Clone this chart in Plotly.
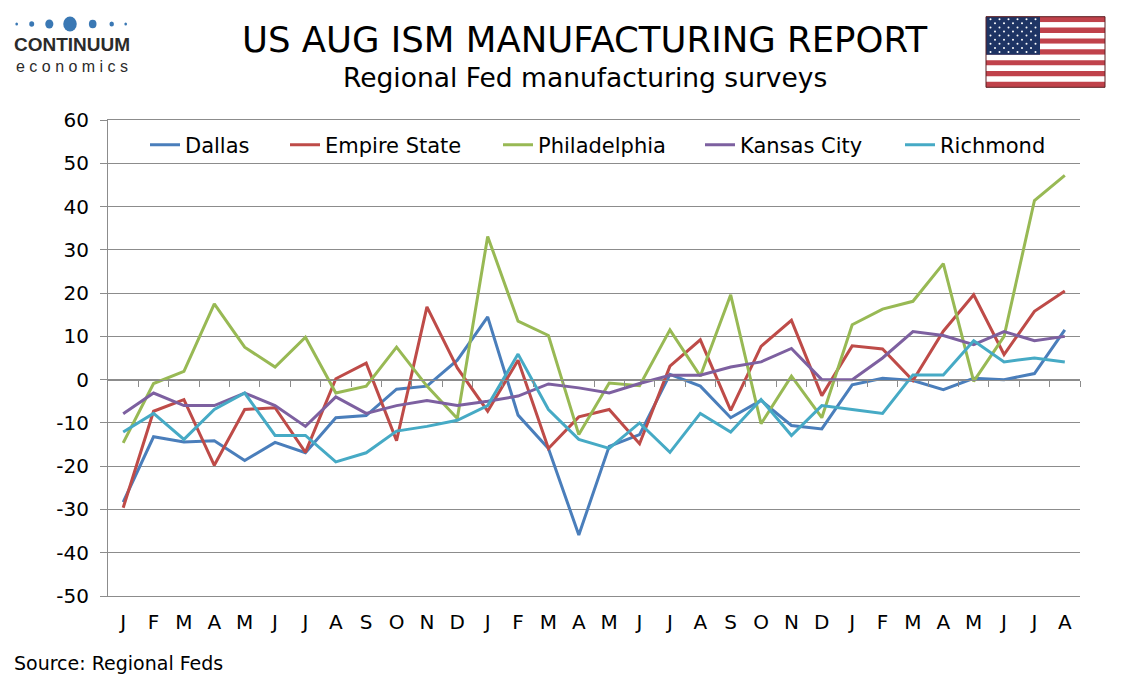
import plotly.graph_objects as go

# months Jan 2019 .. Aug 2021
months = ["J", "F", "M", "A", "M", "J", "J", "A", "S", "O", "N", "D",
          "J", "F", "M", "A", "M", "J", "J", "A", "S", "O", "N", "D",
          "J", "F", "M", "A", "M", "J", "J", "A"]

dallas = [-28.3, -13.2, -14.4, -14.1, -18.7, -14.5, -16.9, -8.8, -8.3, -2.2, -1.5, 4.5,
          14.5, -8.2, -15.9, -35.9, -15.4, -12.7, 1.2, -1.5, -8.8, -4.8, -10.6, -11.4,
          -1.2, 0.3, -0.2, -2.3, 0.3, 0.0, 1.4, 11.5]
empire = [-29.6, -7.3, -4.6, -19.8, -6.9, -6.5, -16.8, 0.2, 3.8, -14.1, 16.8, 2.7,
          -7.3, 4.5, -15.9, -8.6, -6.9, -14.8, 3.1, 9.2, -7.1, 7.7, 13.7, -3.7,
          7.8, 7.1, -0.2, 11.2, 19.6, 5.8, 15.8, 20.5]
philly = [-14.6, -0.9, 1.9, 17.5, 7.5, 2.9, 9.8, -3.1, -1.5, 7.5, -1.5, -9.0,
          33.1, 13.5, 10.2, -12.7, -0.8, -1.4, 11.5, 0.8, 19.6, -10.2, 0.8, -8.8,
          12.7, 16.3, 18.1, 26.8, -0.4, 10.0, 41.4, 47.2]
kansas = [-7.9, -3.1, -6.0, -6.0, -3.1, -6.0, -10.8, -4.0, -7.8, -6.0, -4.8, -6.0,
          -5.0, -3.8, -1.0, -1.9, -3.1, -0.9, 1.0, 1.0, 2.9, 4.1, 7.2, 0.0,
          0.0, 5.0, 11.1, 10.2, 8.1, 11.1, 9.0, 10.0]
richmond = [-12.1, -7.8, -13.8, -6.9, -3.1, -12.9, -12.9, -19.0, -16.9, -11.9, -10.8, -9.4,
            -6.0, 5.9, -6.9, -13.8, -15.9, -10.0, -16.8, -7.8, -12.1, -4.6, -12.9, -6.0,
            -6.9, -7.8, 1.1, 1.1, 9.0, 4.1, 5.0, 4.1]

y_ticks = [60, 50, 40, 30, 20, 10, 0, -10, -20, -30, -40, -50]
y_labels = [str(v) for v in y_ticks]  # plain hyphen, as in the original

series = [("Dallas", dallas, "#4a7ebb"),
          ("Empire State", empire, "#be4b48"),
          ("Philadelphia", philly, "#98b954"),
          ("Kansas City", kansas, "#7d60a0"),
          ("Richmond", richmond, "#46aac5")]

# page puts the plot 8px in from the top-left corner
OFF = 8
W, H = 1134 - OFF, 680 - OFF
L, R, T, B = 108, 1080, 120, 596   # plot area in window pixels
FONT = "DejaVu Sans"
GRID = "#8c8c8c"


def px(x):
    return (x - L) / (R - L)


def py(y):
    return (B - y) / (B - T)


xs = list(range(len(months)))
fig = go.Figure()

legend_x = [145, 285, 498, 700, 900]
for i, (name, vals, col) in enumerate(series):
    lg = "legend" if i == 0 else "legend%d" % (i + 1)
    fig.add_trace(go.Scatter(
        x=xs, y=vals, name=name, mode="lines",
        line=dict(color=col, width=3),
        legend=lg,
    ))
    fig.update_layout({lg: dict(
        x=px(legend_x[i]), y=py(145), xanchor="left", yanchor="middle",
        orientation="h", bgcolor="rgba(0,0,0,0)",
        font=dict(family=FONT, size=21, color="black"),
    )})

fig.update_layout(
    width=W, height=H,
    margin=dict(l=L - OFF, r=1134 - R, t=T - OFF, b=680 - B),
    paper_bgcolor="white", plot_bgcolor="white",
    font=dict(family=FONT, color="black"),
    xaxis=dict(
        range=[-0.5, len(months) - 0.5],
        tickmode="array", tickvals=xs, ticktext=months,
        showgrid=False, zeroline=False,
        showline=True, linecolor=GRID, linewidth=1, mirror=True,
        ticks="", ticklabelstandoff=8, tickfont=dict(family=FONT, size=20),
    ),
    xaxis2=dict(
        overlaying="x", anchor="free", position=py(380),
        range=[-0.5, len(months) - 0.5],
        tickmode="array", tickvals=[i + 0.5 for i in range(len(months))],
        showticklabels=False, showgrid=False, zeroline=False,
        showline=True, linecolor=GRID, linewidth=1,
        ticks="outside", ticklen=6, tickcolor=GRID,
    ),
    yaxis=dict(
        range=[-50, 60], tickmode="array", tickvals=y_ticks, ticktext=y_labels,
        showgrid=True, gridcolor=GRID, gridwidth=1,
        zeroline=False, showline=True, linecolor=GRID, linewidth=1,
        ticks="outside", ticklen=7, tickcolor=GRID, ticklabelstandoff=7,
        tickfont=dict(family=FONT, size=20),
    ),
    showlegend=True,
)

# invisible point so the zero-line axis gets drawn
fig.add_trace(go.Scatter(x=[0], y=[0], xaxis="x2", mode="markers",
                         marker=dict(opacity=0), showlegend=False, hoverinfo="skip"))

annotations = [
    dict(text="US AUG ISM MANUFACTURING REPORT", x=px(585), y=py(40),
         font=dict(family=FONT, size=35.5, color="black")),
    dict(text="Regional Fed manufacturing surveys", x=px(585), y=py(77),
         font=dict(family=FONT, size=26.5, color="black")),
    dict(text="Source: Regional Feds", x=px(12), y=py(663), xanchor="left",
         font=dict(family=FONT, size=19, color="black")),
    dict(text="<b>CONTINUUM</b>", x=px(72), y=py(45),
         font=dict(family="Liberation Sans", size=19, color="#2b2b2b")),
    dict(text="e c o n o m i c s", x=px(72), y=py(66.5),
         font=dict(family="Liberation Sans", size=16, color="#2b2b2b")),
]
for a in annotations:
    a.update(xref="paper", yref="paper", showarrow=False,
             xanchor=a.get("xanchor", "center"), yanchor="middle")
fig.update_layout(annotations=annotations)

shapes = []
# logo dots
for cx, d in [(16.7, 3), (31.7, 5.5), (49.3, 9), (70, 15), (92.7, 8.5), (111.7, 5), (125.7, 3)]:
    shapes.append(dict(type="circle", xref="paper", yref="paper",
                       x0=px(cx - d / 2 * 0.9), x1=px(cx + d / 2 * 0.9),
                       y0=py(24 + d / 2), y1=py(24 - d / 2),
                       fillcolor="#3a78b4", line=dict(width=0)))
# flag
fx0, fx1, fy0, fy1 = 986, 1105, 16.7, 87.3
sh = (fy1 - fy0) / 13
for k in range(13):
    shapes.append(dict(type="rect", xref="paper", yref="paper",
                       x0=px(fx0), x1=px(fx1), y0=py(fy0 + (k + 1) * sh), y1=py(fy0 + k * sh),
                       fillcolor="#c0424b" if k % 2 == 0 else "white", line=dict(width=0)))
shapes.append(dict(type="rect", xref="paper", yref="paper",
                   x0=px(fx0), x1=px(1040), y0=py(fy0 + 7 * sh), y1=py(fy0),
                   fillcolor="#1e3464", line=dict(width=0)))
for r in range(9):
    n = 6 if r % 2 == 0 else 5
    off = 0 if r % 2 == 0 else 4.5
    for c in range(n):
        sx = fx0 + 4.5 + off + c * 9
        sy = fy0 + 2.5 + r * 4.1
        shapes.append(dict(type="circle", xref="paper", yref="paper",
                           x0=px(sx - 1), x1=px(sx + 1), y0=py(sy + 1), y1=py(sy - 1),
                           fillcolor="white", line=dict(width=0)))
shapes.append(dict(type="rect", xref="paper", yref="paper",
                   x0=px(fx0), x1=px(fx1), y0=py(fy1), y1=py(fy0),
                   fillcolor="rgba(0,0,0,0)", line=dict(color="#5a1e22", width=1)))
fig.update_layout(shapes=shapes)

fig.write_html("out.html")
